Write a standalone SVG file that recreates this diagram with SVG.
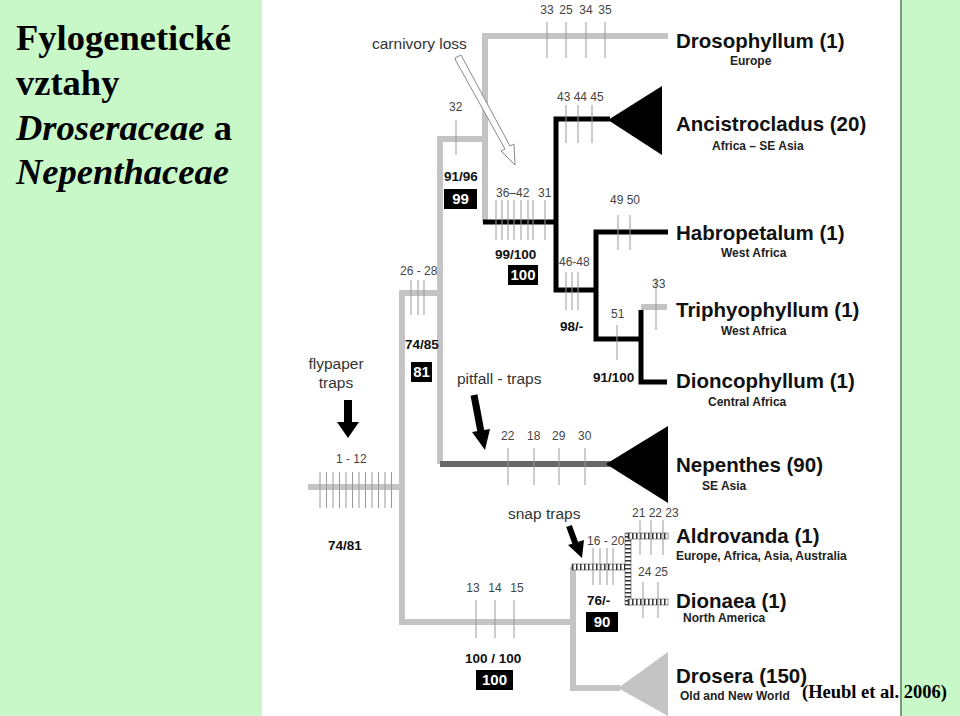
<svg xmlns="http://www.w3.org/2000/svg" width="960" height="716" viewBox="0 0 960 716">
<defs>
<style>
.t{font-family:"Liberation Sans",Arial,sans-serif;fill:#444;font-size:12px}
.c{text-anchor:middle}
.b{font-family:"Liberation Sans",Arial,sans-serif;font-weight:bold;fill:#111;font-size:13.5px}
.n{font-family:"Liberation Sans",Arial,sans-serif;font-weight:bold;fill:#111;font-size:20.5px}
.s{font-family:"Liberation Sans",Arial,sans-serif;font-weight:bold;fill:#222;font-size:12px}
.lab{font-family:"Liberation Sans",Arial,sans-serif;fill:#333;font-size:15.5px}
.bx{fill:#000}
.bxt{font-family:"Liberation Sans",Arial,sans-serif;font-weight:bold;fill:#fff;font-size:15px;text-anchor:middle}
.g{stroke:#c4c4c4;stroke-width:6;fill:none}
.k{stroke:#000;stroke-width:5;fill:none}
.tk{stroke:#999;stroke-width:1;fill:none}
.ttl{font-family:"Liberation Serif","Times New Roman",serif;font-weight:bold;font-size:36.5px;fill:#000}
</style>
<pattern id="lad" width="4" height="4" patternUnits="userSpaceOnUse"><rect width="4" height="4" fill="#fff"/><rect width="1.5" height="4" fill="#333"/></pattern>
<pattern id="ladv" width="4" height="4" patternUnits="userSpaceOnUse"><rect width="4" height="4" fill="#fff"/><rect width="4" height="1.5" fill="#333"/></pattern>
</defs>
<rect width="960" height="716" fill="#fff"/>
<rect x="0" y="0" width="262" height="716" fill="#c8f8c8"/>
<rect x="901" y="0" width="59" height="716" fill="#c8f8c8"/>
<line x1="901" y1="0" x2="901" y2="716" stroke="#7a9a7a" stroke-width="2"/>
<g id="title">
<text class="ttl" x="16" y="50">Fylogenetické</text>
<text class="ttl" x="16" y="95">vztahy</text>
<text class="ttl" x="16" y="140"><tspan font-style="italic">Droseraceae</tspan> a</text>
<text class="ttl" x="16" y="184" font-style="italic">Nepenthaceae</text>
</g>
<g id="connectors">
<path class="g" d="M668,36 H485 V222"/>
<path class="g" d="M485,139 H440 V464"/>
<path class="g" d="M440,293 H402 V622 H573"/>
<path class="g" d="M308,487 H402"/>
<path class="g" d="M573,567 V688 H620"/>
<path class="g" d="M641,307 H667"/>
<path class="k" d="M483,222 H556"/>
<path class="k" d="M610,119 H556 V290 H596"/>
<path class="k" d="M668,232 H596 V339 H641"/>
<path class="k" d="M667,382 H641 V310"/>
<path d="M440,464 H610" stroke="#666" stroke-width="6" fill="none"/>
<rect x="572" y="564" width="56" height="6" fill="url(#lad)" stroke="#333" stroke-width="0.5"/>
<rect x="625" y="533" width="6" height="72" fill="url(#ladv)" stroke="#333" stroke-width="0.5"/>
<rect x="628" y="533" width="40" height="6" fill="url(#lad)" stroke="#333" stroke-width="0.5"/>
<rect x="628" y="599" width="40" height="6" fill="url(#lad)" stroke="#333" stroke-width="0.5"/>
<polygon points="608,120 662,86 662,155" fill="#000"/>
<polygon points="606,464 668,426 668,503" fill="#000"/>
<polygon points="618,688 668,652 668,716" fill="#c4c4c4"/>
<g class="tk">
<path d="M547,22V58M566,22V58M586,22V58M605,22V58"/>
<path d="M456,120V155"/>
<path d="M566,105V143M578,105V143M592,105V143"/>
<path d="M496,200V240M502,200V240M508,200V240M514,200V240M521,200V240M528,200V240M533,200V240M545,200V240"/>
<path d="M618,215V250M630,215V250"/>
<path d="M566,272V310M572,272V310M578,272V310"/>
<path d="M656,278V330M617,325V360"/>
<path d="M411,280V315M418,280V315M424,280V315"/>
<path d="M508,448V485M534,448V485M559,448V485M585,448V485"/>
<path d="M320,472V508M326.5,472V508M333,472V508M339.5,472V508M346,472V508M352.5,472V508M359,472V508M365.5,472V508M372,472V508M378.5,472V508M385,472V508M391.5,472V508"/>
<path d="M593,548V585M600,548V585M607,548V585M613,548V585"/>
<path d="M640,520V555M651,520V555M663,520V555"/>
<path d="M643,582V618M658,582V618"/>
<path d="M476,600V638M495,600V638M514,600V638"/>
</g>
<polygon points="455,58 461,55 510,146 514,144 515,165 501,151 505,149 456,61" fill="#fff" stroke="#888" stroke-width="1"/>
<path d="M348,400V424" stroke="#000" stroke-width="8"/><polygon points="337,422 359,422 348,438" fill="#000"/>
<path d="M474,395L481,432" stroke="#000" stroke-width="7"/><polygon points="472,432 490,429 485,450" fill="#000"/>
<path d="M569,526L576,545" stroke="#000" stroke-width="6"/><polygon points="568,545 584,540 582,558" fill="#000"/>
</g>
<g id="labels">
<text class="t c" x="547" y="14">33</text><text class="t c" x="566" y="14">25</text><text class="t c" x="586" y="14">34</text><text class="t c" x="605" y="14">35</text>
<text class="lab" x="372" y="49">carnivory loss</text>
<text class="t" x="449" y="111">32</text>
<text class="t" x="557" y="101">43 44 45</text>
<text class="b" x="444" y="181">91/96</text>
<rect class="bx" x="444" y="189" width="33" height="20"/><text class="bxt" x="460.5" y="204">99</text>
<text class="t" x="496" y="197">36–42</text><text class="t" x="538" y="197">31</text>
<text class="b" x="495" y="259">99/100</text>
<rect class="bx" x="508" y="265" width="30" height="20"/><text class="bxt" x="523" y="280">100</text>
<text class="t" x="610" y="204">49 50</text>
<text class="t" x="559" y="266">46-48</text>
<text class="b" x="560" y="331">98/-</text>
<text class="t" x="652" y="288">33</text>
<text class="t" x="611" y="318">51</text>
<text class="b" x="593" y="382">91/100</text>
<text class="t" x="400" y="275">26 - 28</text>
<text class="b" x="405" y="349">74/85</text>
<rect class="bx" x="411" y="362" width="21" height="20"/><text class="bxt" x="421.5" y="377">81</text>
<text class="lab" x="336" y="369" text-anchor="middle">flypaper</text>
<text class="lab" x="336" y="388" text-anchor="middle">traps</text>
<text class="lab" x="457" y="384">pitfall - traps</text>
<text class="t" x="501" y="440">22</text><text class="t" x="527" y="440">18</text><text class="t" x="552" y="440">29</text><text class="t" x="578" y="440">30</text>
<text class="t" x="336" y="463">1 - 12</text>
<text class="b" x="328" y="550">74/81</text>
<text class="lab" x="508" y="519">snap traps</text>
<text class="t" x="587" y="545" font-size="11">16 - 20</text>
<text class="t" x="632" y="517" font-size="10.5">21 22 23</text>
<text class="t" x="638" y="576" font-size="10.5">24 25</text>
<text class="b" x="587" y="605">76/-</text>
<rect class="bx" x="586" y="612" width="32" height="20"/><text class="bxt" x="602" y="627">90</text>
<text class="t c" x="473" y="592" font-size="13">13</text><text class="t c" x="495" y="592" font-size="13">14</text><text class="t c" x="517" y="592" font-size="13">15</text>
<text class="b" x="465" y="663">100 / 100</text>
<rect class="bx" x="476" y="670" width="37" height="20"/><text class="bxt" x="494.5" y="685">100</text>
</g>
<g id="drosophyllum"><text class="n" x="676" y="48">Drosophyllum (1)</text><text class="s" x="730" y="65">Europe</text></g>
<g id="ancistrocladus"><text class="n" x="676" y="131">Ancistrocladus (20)</text><text class="s" x="712" y="150">Africa – SE Asia</text></g>
<g id="habropetalum"><text class="n" x="676" y="240">Habropetalum (1)</text><text class="s" x="721" y="257">West Africa</text></g>
<g id="triphyophyllum"><text class="n" x="676" y="317">Triphyophyllum (1)</text><text class="s" x="721" y="335">West Africa</text></g>
<g id="dioncophyllum"><text class="n" x="676" y="388">Dioncophyllum (1)</text><text class="s" x="708" y="406">Central Africa</text></g>
<g id="nepenthes"><text class="n" x="676" y="472">Nepenthes (90)</text><text class="s" x="702" y="490">SE  Asia</text></g>
<g id="aldrovanda"><text class="n" x="676" y="543">Aldrovanda (1)</text><text class="s" x="676" y="560" font-size="11">Europe, Africa, Asia, Australia</text></g>
<g id="dionaea"><text class="n" x="676" y="608">Dionaea (1)</text><text class="s" x="683" y="622">North America</text></g>
<g id="drosera"><text class="n" x="676" y="683">Drosera (150)</text><text class="s" x="680" y="700">Old and New World</text></g>
<text x="802" y="698" font-family="'Liberation Serif','Times New Roman',serif" font-weight="bold" font-size="18.5" fill="#000">(Heubl et al. 2006)</text>
</svg>
